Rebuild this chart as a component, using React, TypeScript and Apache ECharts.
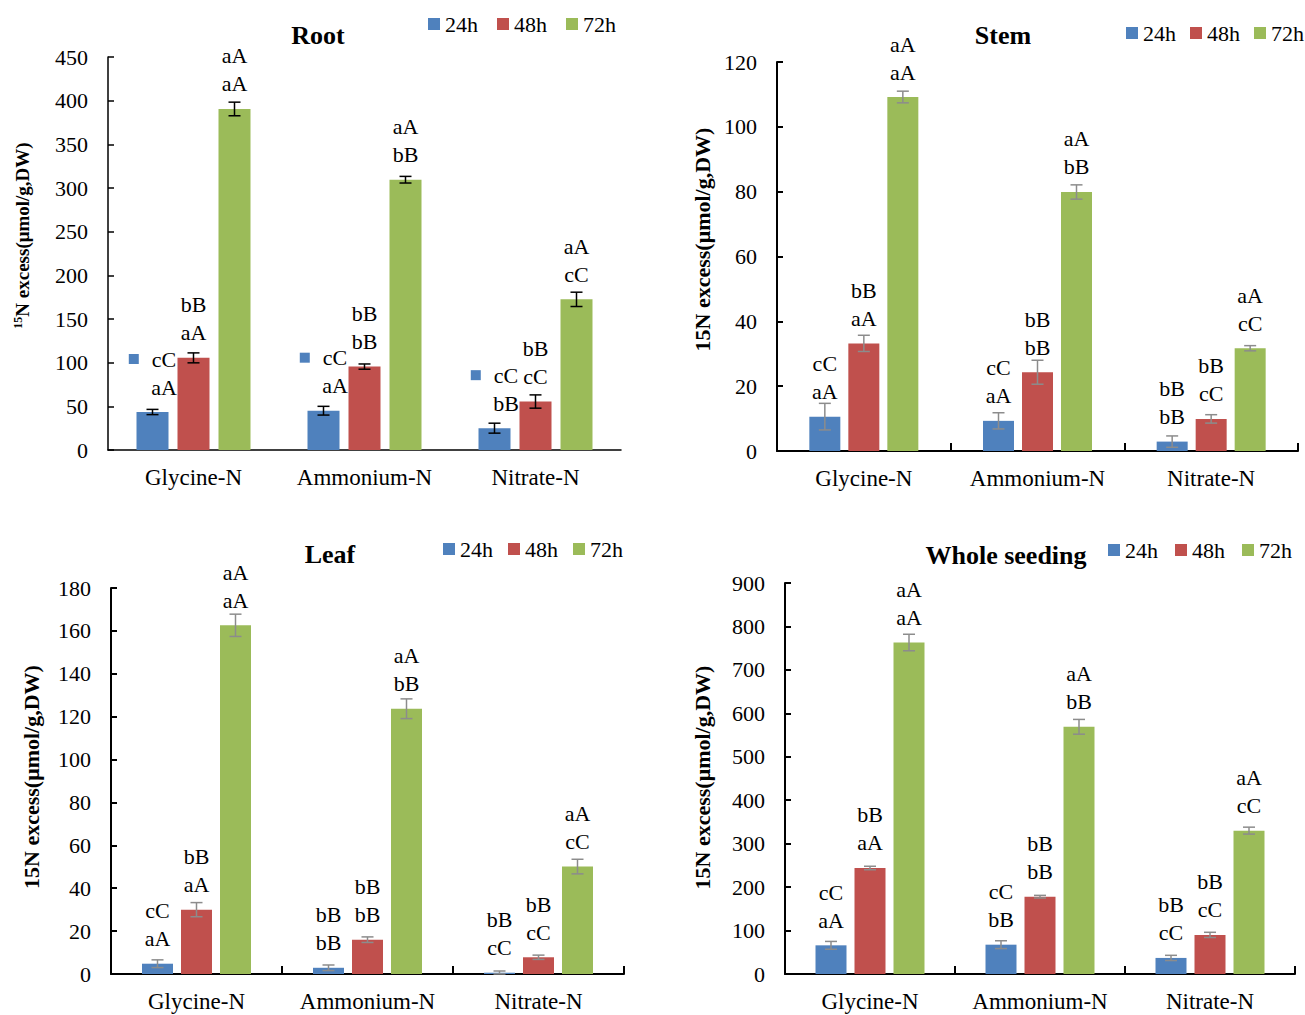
import React, { useEffect, useRef } from "react";
import * as echarts from "echarts";

const FONT = '"Liberation Serif", "Times New Roman", serif';
const COLORS = ["#4F81BD", "#C0504D", "#9BBB59"];

const categories = ["Glycine-N", "Ammonium-N", "Nitrate-N"];
const times = ["24h", "48h", "72h"];

// values per time point (24h, 48h, 72h), each across categories
const rootMean = [[43.5, 45, 25], [105.5, 95.5, 55.5], [390.5, 309.5, 172.5]];
const rootErr = [[3, 5, 5.7], [5.7, 3, 7.6], [7.8, 3.8, 8.2]];
const rootSig = [
  [["cC", "aA"], ["cC", "aA"], ["cC", "bB"]],
  [["bB", "aA"], ["bB", "bB"], ["bB", "cC"]],
  [["aA", "aA"], ["aA", "bB"], ["aA", "cC"]],
];

const stemMean = [[10.6, 9.3, 2.9], [33.2, 24.3, 9.9], [109.2, 79.9, 31.7]];
const stemErr = [[4.1, 2.5, 1.75], [2.5, 3.7, 1.3], [1.8, 2.2, 0.8]];
const stemSig = [
  [["cC", "aA"], ["cC", "aA"], ["bB", "bB"]],
  [["bB", "aA"], ["bB", "bB"], ["bB", "cC"]],
  [["aA", "aA"], ["aA", "bB"], ["aA", "cC"]],
];

const leafMean = [[4.8, 2.9, 0.6], [30, 16, 7.8], [162.6, 123.7, 50.1]];
const leafErr = [[1.8, 1.3, 0.8], [3.3, 1.3, 1], [5.2, 4.6, 3.4]];
const leafSig = [
  [["cC", "aA"], ["bB", "bB"], ["bB", "cC"]],
  [["bB", "aA"], ["bB", "bB"], ["bB", "cC"]],
  [["aA", "aA"], ["aA", "bB"], ["aA", "cC"]],
];

const wholeMean = [[66, 67.5, 37], [244, 178, 90], [763, 569, 330]];
const wholeErr = [[9, 9, 6], [4, 3, 6], [19, 17, 8]];
const wholeSig = [
  [["cC", "aA"], ["cC", "bB"], ["bB", "cC"]],
  [["bB", "aA"], ["bB", "bB"], ["bB", "cC"]],
  [["aA", "aA"], ["aA", "bB"], ["aA", "cC"]],
];

const yTitlePlain = "15N excess(μmol/g,DW)";
const yTitleRoot = "{sup|15}{b|N excess(μmol/g,DW)}";

const panels = [
  {
    title: "Root", mean: rootMean, err: rootErr, sig: rootSig,
    grid: { left: 108, top: 57, width: 513, height: 393 },
    max: 450, interval: 50, barWidth: 32, gapPx: 9, errColor: "#000000",
    axisW: 1.5, xTicks: false, yName: yTitleRoot, yNameGap: 76, yNamePad: 36,
    legend: { left: 428, top: 13, gap: 19 }, titlePos: { x: 318, y: 22 }, keySquare: true,
  },
  {
    title: "Stem", mean: stemMean, err: stemErr, sig: stemSig,
    grid: { left: 777, top: 62, width: 521, height: 389 },
    max: 120, interval: 20, barWidth: 31, gapPx: 8, errColor: "#8C8C8C",
    axisW: 2, xTicks: true, yName: yTitlePlain, yNameGap: 64, yNamePad: 34,
    legend: { left: 1126, top: 22, gap: 14 }, titlePos: { x: 1003, y: 22 }, keySquare: false,
  },
  {
    title: "Leaf", mean: leafMean, err: leafErr, sig: leafSig,
    grid: { left: 111, top: 588, width: 513, height: 386 },
    max: 180, interval: 20, barWidth: 31, gapPx: 8, errColor: "#8C8C8C",
    axisW: 2, xTicks: true, yName: yTitlePlain, yNameGap: 69, yNamePad: 8,
    legend: { left: 443, top: 538, gap: 15 }, titlePos: { x: 330, y: 541 }, keySquare: false,
  },
  {
    title: "Whole seeding", mean: wholeMean, err: wholeErr, sig: wholeSig,
    grid: { left: 785, top: 583, width: 510, height: 391 },
    max: 900, interval: 100, barWidth: 31, gapPx: 8, errColor: "#8C8C8C",
    axisW: 2, xTicks: true, yName: yTitlePlain, yNameGap: 72, yNamePad: 2,
    legend: { left: 1108, top: 539, gap: 17 }, titlePos: { x: 1006, y: 542 }, keySquare: false,
  },
];

function buildOption() {
  const grid: any[] = [];
  const xAxis: any[] = [];
  const yAxis: any[] = [];
  const series: any[] = [];
  const title: any[] = [];
  const legend: any[] = [];

  panels.forEach((p, i) => {
    grid.push({ ...p.grid, containLabel: false });
    title.push({
      text: p.title, left: p.titlePos.x, top: p.titlePos.y, textAlign: "center", padding: 0,
      textStyle: { fontSize: 26, fontWeight: "bold", fontFamily: FONT, color: "#000" },
    });
    legend.push({
      data: times, left: p.legend.left, top: p.legend.top, padding: 0, itemGap: p.legend.gap,
      icon: "rect", itemWidth: 12, itemHeight: 12,
      textStyle: { fontSize: 22, fontFamily: FONT, color: "#000" },
    });
    xAxis.push({
      type: "category", gridIndex: i, data: categories,
      axisLine: { show: true, lineStyle: { color: "#000", width: p.axisW } },
      axisTick: { show: p.xTicks, inside: true, length: 8, lineStyle: { color: "#000", width: p.axisW } },
      axisLabel: { interval: 0, fontSize: 23, fontFamily: FONT, color: "#000", margin: 16 },
      splitLine: { show: false },
    });
    yAxis.push({
      type: "value", gridIndex: i, min: 0, max: p.max, interval: p.interval,
      axisLine: { show: true, lineStyle: { color: "#000", width: p.axisW } },
      axisTick: { show: true, inside: true, length: 6, lineStyle: { color: "#000", width: p.axisW } },
      axisLabel: { fontSize: 22, fontFamily: FONT, color: "#000", margin: 20 },
      splitLine: { show: false },
      name: p.yName, nameLocation: "middle", nameGap: p.yNameGap, nameRotate: 90,
      nameTextStyle: {
        fontSize: i === 0 ? 19 : 22, fontWeight: "bold", fontFamily: FONT, color: "#000",
        padding: [0, 0, 0, p.yNamePad],
        rich: {
          sup: { fontSize: 12, fontWeight: "bold", fontFamily: FONT, color: "#000", verticalAlign: "top", padding: [0, 0, 8, 0] },
          b: { fontSize: 19, fontWeight: "bold", fontFamily: FONT, color: "#000" },
        },
      },
    });

    times.forEach((t, ti) => {
      const sig = p.sig[ti];
      const useKey = p.keySquare && ti === 0;
      series.push({
        type: "bar", name: t, xAxisIndex: i, yAxisIndex: i,
        data: p.mean[ti], barWidth: p.barWidth, barGap: `${(p.gapPx / p.barWidth) * 100}%`,
        itemStyle: { color: COLORS[ti] },
        z: 2,
        label: {
          show: true, position: "top", distance: 11, color: "#000",
          fontSize: 22, fontFamily: FONT, lineHeight: 28,
          formatter: (params: any) => {
            const s = sig[params.dataIndex];
            if (useKey) return `{sq|}{g|}{t|${s[0]}}\n{sp|}{g|}{t|${s[1]}}`;
            return `${s[0]}\n${s[1]}`;
          },
          rich: useKey
            ? {
                t: { fontSize: 22, fontFamily: FONT, color: "#000", lineHeight: 28 },
                sq: { width: 10, height: 10, backgroundColor: COLORS[0] },
                sp: { width: 10, height: 10 },
                g: { width: 13, height: 10 },
              }
            : undefined,
        },
      });
      const off = (ti - 1) * (p.barWidth + p.gapPx);
      const errColor = p.errColor;
      series.push({
        type: "custom", name: `${t} error`, xAxisIndex: i, yAxisIndex: i, z: 5, silent: true,
        data: p.mean[ti].map((v, c) => [c, v, p.err[ti][c]]),
        renderItem: (params: any, api: any) => {
          const c = api.value(0);
          const v = api.value(1);
          const e = api.value(2);
          const hi = api.coord([c, v + e]);
          const lo = api.coord([c, Math.max(0, v - e)]);
          const x = hi[0] + off;
          const style = { stroke: errColor, lineWidth: 1.5 };
          const cap = 6;
          return {
            type: "group",
            children: [
              { type: "line", shape: { x1: x, y1: hi[1], x2: x, y2: lo[1] }, style },
              { type: "line", shape: { x1: x - cap, y1: hi[1], x2: x + cap, y2: hi[1] }, style },
              { type: "line", shape: { x1: x - cap, y1: lo[1], x2: x + cap, y2: lo[1] }, style },
            ],
          };
        },
      });
    });
  });

  return {
    animation: false,
    backgroundColor: "#ffffff",
    textStyle: { fontFamily: FONT },
    title, legend, grid, xAxis, yAxis, series,
  };
}

export default function App() {
  const ref = useRef<HTMLDivElement>(null);
  useEffect(() => {
    if (!ref.current) return;
    const chart = echarts.init(ref.current, undefined, { renderer: "svg" });
    chart.setOption(buildOption() as any);
    return () => chart.dispose();
  }, []);
  return (
    <div
      ref={ref}
      style={{ position: "absolute", left: 0, top: 0, width: 1305, height: 1015, background: "#fff" }}
    />
  );
}
